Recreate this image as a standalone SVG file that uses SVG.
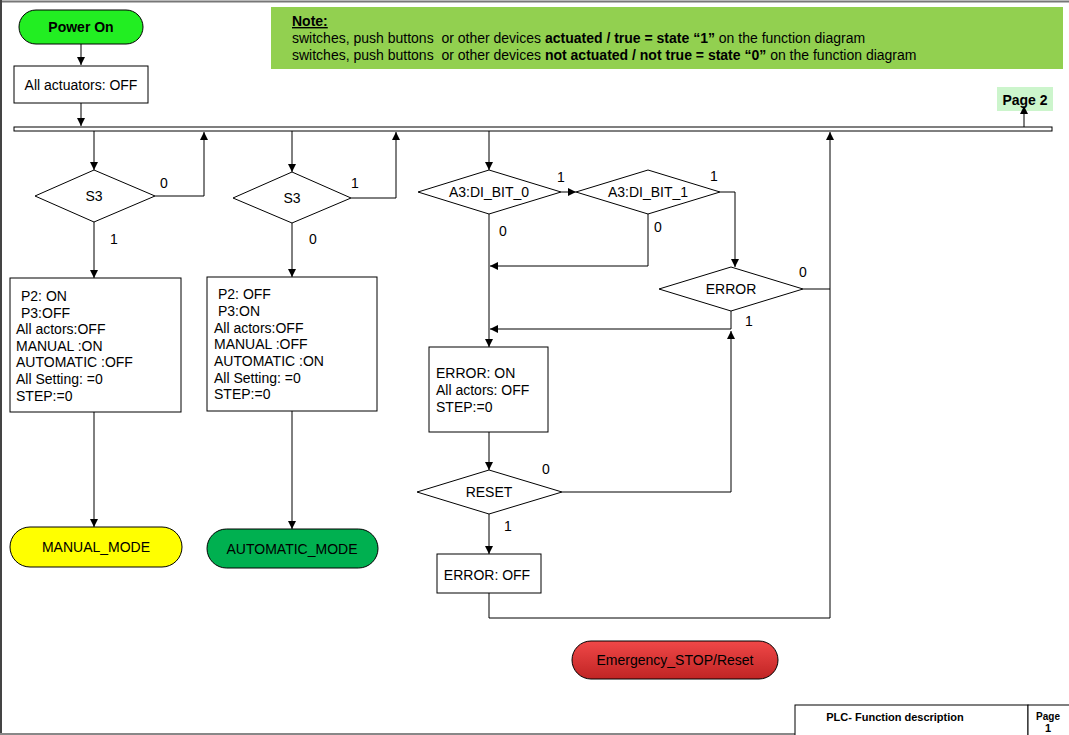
<svg xmlns="http://www.w3.org/2000/svg" width="1069" height="735" viewBox="0 0 1069 735">
<defs>
<marker id="ah" viewBox="0 0 10 10" refX="10" refY="5" markerWidth="8" markerHeight="8" markerUnits="userSpaceOnUse" orient="auto"><path d="M0,0 L10,5 L0,10 z" fill="#000"/></marker>
<linearGradient id="red" x1="0" y1="0" x2="0" y2="1"><stop offset="0" stop-color="#f04848"/><stop offset="1" stop-color="#c02424"/></linearGradient>
<style>
text{font-family:"Liberation Sans",Arial,sans-serif;font-size:14px;fill:#000}
.c{text-anchor:middle}
.b{font-weight:bold}
.box{fill:#fff;stroke:#000;stroke-width:1}
.con path,.con line{fill:none;stroke:#000;stroke-width:1}
.arr{marker-end:url(#ah)}
.pill{stroke:#000;stroke-width:1}
</style>
</defs>
<rect x="0" y="0" width="1069" height="735" fill="#fff"/>
<g id="frame" fill="none">
<line x1="0" y1="1.5" x2="1069" y2="1.5" stroke="#777" stroke-width="2"/>
<line x1="1" y1="0" x2="1" y2="735" stroke="#444" stroke-width="2"/>
<line x1="0" y1="734" x2="1069" y2="734" stroke="#888" stroke-width="2"/>
</g>
<g id="note">
<rect x="271" y="7" width="792" height="62" fill="#92d050"/>
<text x="292" y="26" class="b" text-decoration="underline">Note:</text>
<text x="292" y="43" xml:space="preserve">switches, push buttons  or other devices <tspan class="b">actuated / true = state “1”</tspan> on the function diagram</text>
<text x="292" y="60" xml:space="preserve">switches, push buttons  or other devices <tspan class="b">not actuated / not true = state “0”</tspan> on the function diagram</text>
</g>
<g id="bus"><rect x="14" y="127" width="1038" height="4" fill="#fff" stroke="#000" stroke-width="1"/></g>
<g id="page2"><rect x="997" y="87" width="56" height="24" fill="#ccf5cc"/><text x="1025" y="105" class="c b">Page 2</text></g>
<g class="con" id="connectors">
<line x1="81" y1="44" x2="81" y2="65" class="arr"/>
<line x1="81" y1="103" x2="81" y2="126" class="arr"/>
<line x1="1024" y1="127" x2="1024" y2="106" class="arr"/>
<line x1="94" y1="131" x2="94" y2="170" class="arr"/>
<path d="M155,196 H204 V132" class="arr"/>
<line x1="94" y1="222" x2="94" y2="278" class="arr"/>
<line x1="94" y1="412" x2="94" y2="527" class="arr"/>
<line x1="292" y1="131" x2="292" y2="172" class="arr"/>
<path d="M351,198 H396 V132" class="arr"/>
<line x1="292" y1="223" x2="292" y2="277" class="arr"/>
<line x1="292" y1="411" x2="292" y2="529" class="arr"/>
<line x1="489" y1="131" x2="489" y2="170" class="arr"/>
<line x1="561" y1="192" x2="576" y2="192" class="arr"/>
<path d="M720,192 H735 V267" class="arr"/>
<path d="M648,214 V266 H490" class="arr"/>
<line x1="489" y1="214" x2="489" y2="347" class="arr"/>
<path d="M803,289 H830 V132" class="arr"/>
<path d="M731,311 V329 H490" class="arr"/>
<line x1="489" y1="432" x2="489" y2="470" class="arr"/>
<path d="M562,492 H731 V331" class="arr"/>
<line x1="489" y1="514" x2="489" y2="554" class="arr"/>
<path d="M489,593 V618 H830 V289"/>
</g>
<g id="labels">
<text x="164" y="188" class="c">0</text>
<text x="114" y="244" class="c">1</text>
<text x="355" y="188" class="c">1</text>
<text x="313" y="244" class="c">0</text>
<text x="561" y="182" class="c">1</text>
<text x="714" y="181" class="c">1</text>
<text x="503" y="236" class="c">0</text>
<text x="658" y="232" class="c">0</text>
<text x="803" y="277" class="c">0</text>
<text x="749" y="326" class="c">1</text>
<text x="546" y="474" class="c">0</text>
<text x="508" y="531" class="c">1</text>
</g>
<g id="powerOn"><rect x="19" y="10" width="124" height="34" rx="17" class="pill" fill="#22ee22"/><text x="81" y="32" class="c b">Power On</text></g>
<g id="allAct"><rect x="14" y="66" width="134" height="37" class="box"/><text x="81" y="90" class="c">All actuators: OFF</text></g>
<g id="s3a"><polygon points="94,170 155,196 94,222 35,196" class="box"/><text x="94" y="201" class="c">S3</text></g>
<g id="s3b"><polygon points="292,172 351,198 292,223 233,198" class="box"/><text x="292" y="203" class="c">S3</text></g>
<g id="manualBox"><rect x="10" y="278" width="171" height="134" class="box"/>
<text x="16" y="301"><tspan x="21">P2: ON</tspan><tspan x="21" y="318">P3:OFF</tspan><tspan x="16" y="334">All actors:OFF</tspan><tspan x="16" y="351">MANUAL :ON</tspan><tspan x="16" y="367">AUTOMATIC :OFF</tspan><tspan x="16" y="384">All Setting: =0</tspan><tspan x="16" y="401">STEP:=0</tspan></text></g>
<g id="autoBox"><rect x="207" y="277" width="170" height="134" class="box"/>
<text x="218" y="299"><tspan x="218">P2: OFF</tspan><tspan x="218" y="316">P3:ON</tspan><tspan x="214" y="333">All actors:OFF</tspan><tspan x="214" y="349">MANUAL :OFF</tspan><tspan x="214" y="366">AUTOMATIC :ON</tspan><tspan x="214" y="383">All Setting: =0</tspan><tspan x="214" y="399">STEP:=0</tspan></text></g>
<g id="manualMode"><rect x="10" y="527" width="172" height="40" rx="20" class="pill" fill="#ffff00"/><text x="96" y="552" class="c">MANUAL_MODE</text></g>
<g id="autoMode"><rect x="207" y="529" width="171" height="39" rx="19.5" class="pill" fill="#00b050"/><text x="292" y="554" class="c">AUTOMATIC_MODE</text></g>
<g id="bit0"><polygon points="489,170 561,192 489,214 418,192" class="box"/><text x="489" y="197" class="c">A3:DI_BIT_0</text></g>
<g id="bit1"><polygon points="648,170 720,192 648,214 576,192" class="box"/><text x="648" y="197" class="c">A3:DI_BIT_1</text></g>
<g id="errorDec"><polygon points="731,267 803,289 731,311 659,289" class="box"/><text x="731" y="294" class="c">ERROR</text></g>
<g id="errorOn"><rect x="429" y="347" width="119" height="85" class="box"/><text x="436" y="378">ERROR: ON<tspan x="436" y="395">All actors: OFF</tspan><tspan x="436" y="412">STEP:=0</tspan></text></g>
<g id="reset"><polygon points="489,470 562,492 489,514 417,492" class="box"/><text x="489" y="497" class="c">RESET</text></g>
<g id="errorOff"><rect x="437" y="554" width="104" height="39" class="box"/><text x="487" y="580" class="c">ERROR: OFF</text></g>
<g id="estop"><rect x="572" y="641" width="206" height="38" rx="19" class="pill" fill="url(#red)"/><text x="675" y="665" class="c">Emergency_STOP/Reset</text></g>
<g id="footer">
<rect x="795" y="705" width="233" height="31" class="box"/>
<rect x="1028" y="705" width="42" height="31" class="box"/>
<text x="895" y="721" class="c b" style="font-size:11px">PLC- Function description</text>
<text x="1048" y="720" class="c b" style="font-size:10px">Page</text>
<text x="1048" y="732" class="c b" style="font-size:11px">1</text>
</g>
</svg>
